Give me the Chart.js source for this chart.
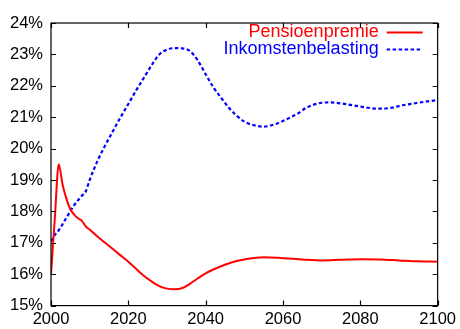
<!DOCTYPE html>
<html>
<head>
<meta charset="utf-8">
<script src="https://cdn.jsdelivr.net/npm/chart.js@4"></script>
<style>
  html, body { margin: 0; padding: 0; background: #fff; }
  #wrap { width: 460px; height: 329px; }
</style>
</head>
<body>
<div id="wrap"><canvas id="chart"></canvas></div>
<script>
// Pensioenpremie (% of income)
const pensionYears = [2000, 2001, 2002, 2003, 2004, 2005, 2006, 2007, 2008, 2009, 2010, 2012, 2014, 2016, 2018, 2020,
    2022, 2024, 2026, 2028, 2030, 2032, 2034, 2036, 2038, 2040, 2042, 2045, 2048, 2050, 2055, 2060, 2065, 2070,
    2075, 2080, 2085, 2090, 2095, 2100];
const pensionRates = [16.0, 17.8, 19.5, 18.85, 18.4, 18.07, 17.9, 17.78, 17.7, 17.52, 17.42, 17.2, 17.0, 16.8, 16.6, 16.4,
    16.17, 15.95, 15.77, 15.62, 15.54, 15.52, 15.56, 15.7, 15.87, 16.03, 16.15, 16.3, 16.42, 16.47, 16.54, 16.51, 16.47, 16.44,
    16.46, 16.48, 16.47, 16.44, 16.41, 16.40];

// Inkomstenbelasting (% of income)
const taxYears = [2000, 2001, 2002, 2004, 2006, 2008, 2009, 2010, 2012, 2014, 2016, 2018, 2020, 2022, 2024, 2026,
    2028, 2030, 2032, 2034, 2036, 2038, 2040, 2042, 2044, 2046, 2048, 2050, 2052, 2055, 2058, 2060, 2062, 2064,
    2066, 2068, 2070, 2072, 2075, 2078, 2082, 2085, 2088, 2091, 2095, 2100];
const taxRates = [17.05, 17.25, 17.4, 17.8, 18.2, 18.5, 18.64, 19.0, 19.6, 20.1, 20.55, 21.0, 21.42, 21.85, 22.25, 22.65,
    23.0, 23.15, 23.2, 23.19, 23.1, 22.8, 22.37, 21.95, 21.62, 21.3, 21.05, 20.86, 20.76, 20.7, 20.78, 20.88, 21.0, 21.13,
    21.3, 21.4, 21.46, 21.47, 21.44, 21.38, 21.3, 21.27, 21.3, 21.38, 21.46, 21.55];

const yearTicks = [2000, 2020, 2040, 2060, 2080, 2100];
const rateTicks = [15, 16, 17, 18, 19, 20, 21, 22, 23, 24];

const FONT = 'Liberation Sans, Arial, sans-serif';

const toPoints = (xs, ys) => xs.map((x, i) => ({ x: x, y: ys[i] }));

// box around the plot with short inward ticks on all four sides
const frameTicks = {
    id: 'frameTicks',
    afterDatasetsDraw(chart) {
        const { ctx, chartArea: a, scales: { x, y } } = chart;
        const len = 5;
        ctx.save();
        ctx.strokeStyle = '#000';
        ctx.lineWidth = 1.2;
        ctx.beginPath();
        yearTicks.forEach(v => {
            const px = Math.round(x.getPixelForValue(v)) + 0.5;
            ctx.moveTo(px, a.bottom); ctx.lineTo(px, a.bottom - len);
            ctx.moveTo(px, a.top); ctx.lineTo(px, a.top + len);
        });
        rateTicks.forEach(v => {
            const py = Math.round(y.getPixelForValue(v)) + 0.5;
            ctx.moveTo(a.left, py); ctx.lineTo(a.left + len, py);
            ctx.moveTo(a.right, py); ctx.lineTo(a.right - len, py);
        });
        ctx.stroke();
        ctx.strokeRect(a.left, a.top, a.right - a.left, a.bottom - a.top);
        ctx.restore();
    }
};

// legend in the top right corner: coloured text, line sample to the right
const keyBox = {
    id: 'keyBox',
    afterDraw(chart) {
        const { ctx, chartArea: a } = chart;
        ctx.save();
        ctx.font = '18px ' + FONT;
        ctx.textAlign = 'right';
        ctx.textBaseline = 'alphabetic';
        chart.data.datasets.forEach((ds, i) => {
            const base = a.top + 14 + i * 17;
            ctx.fillStyle = ds.borderColor;
            ctx.fillText(ds.label, a.right - 59, base);
            ctx.strokeStyle = ds.borderColor;
            ctx.lineWidth = ds.borderWidth;
            ctx.setLineDash(ds.borderDash || []);
            ctx.beginPath();
            ctx.moveTo(a.right - 51, base - 4.5);
            ctx.lineTo(a.right - 15, base - 4.5);
            ctx.stroke();
        });
        ctx.restore();
    }
};

new Chart(document.getElementById('chart'), {
    type: 'line',
    data: {
        datasets: [{
            label: 'Pensioenpremie',
            data: toPoints(pensionYears, pensionRates),
            borderColor: '#ff0000',
            borderWidth: 2,
            pointRadius: 0,
            cubicInterpolationMode: 'monotone'
        }, {
            label: 'Inkomstenbelasting',
            data: toPoints(taxYears, taxRates),
            borderColor: '#0000ff',
            borderWidth: 2.2,
            borderDash: [3.5, 2.5],
            pointRadius: 0,
            cubicInterpolationMode: 'monotone'
        }]
    },
    options: {
        responsive: true,
        maintainAspectRatio: false,
        animation: false,
        layout: { padding: { top: 23, right: 21, left: 0, bottom: 0 } },
        plugins: {
            legend: { display: false },
            tooltip: { enabled: false }
        },
        scales: {
            x: {
                type: 'linear',
                min: 2000,
                max: 2100,
                afterFit: s => { s.height = 23.4; },
                afterBuildTicks: s => { s.ticks = yearTicks.map(v => ({ value: v })); },
                grid: { display: false, drawTicks: false },
                border: { display: false },
                ticks: {
                    autoSkip: false,
                    maxRotation: 0,
                    padding: 4,
                    color: '#000',
                    font: { family: FONT, size: 16.5 },
                    callback: v => String(v)
                }
            },
            y: {
                min: 15,
                max: 24,
                afterFit: s => { s.width = 51; },
                afterBuildTicks: s => { s.ticks = rateTicks.map(v => ({ value: v })); },
                grid: { display: false, drawTicks: false },
                border: { display: false },
                ticks: {
                    autoSkip: false,
                    padding: 8,
                    color: '#000',
                    font: { family: FONT, size: 16.5 },
                    callback: v => v + '%'
                }
            }
        }
    },
    plugins: [frameTicks, keyBox]
});
</script>
</body>
</html>
